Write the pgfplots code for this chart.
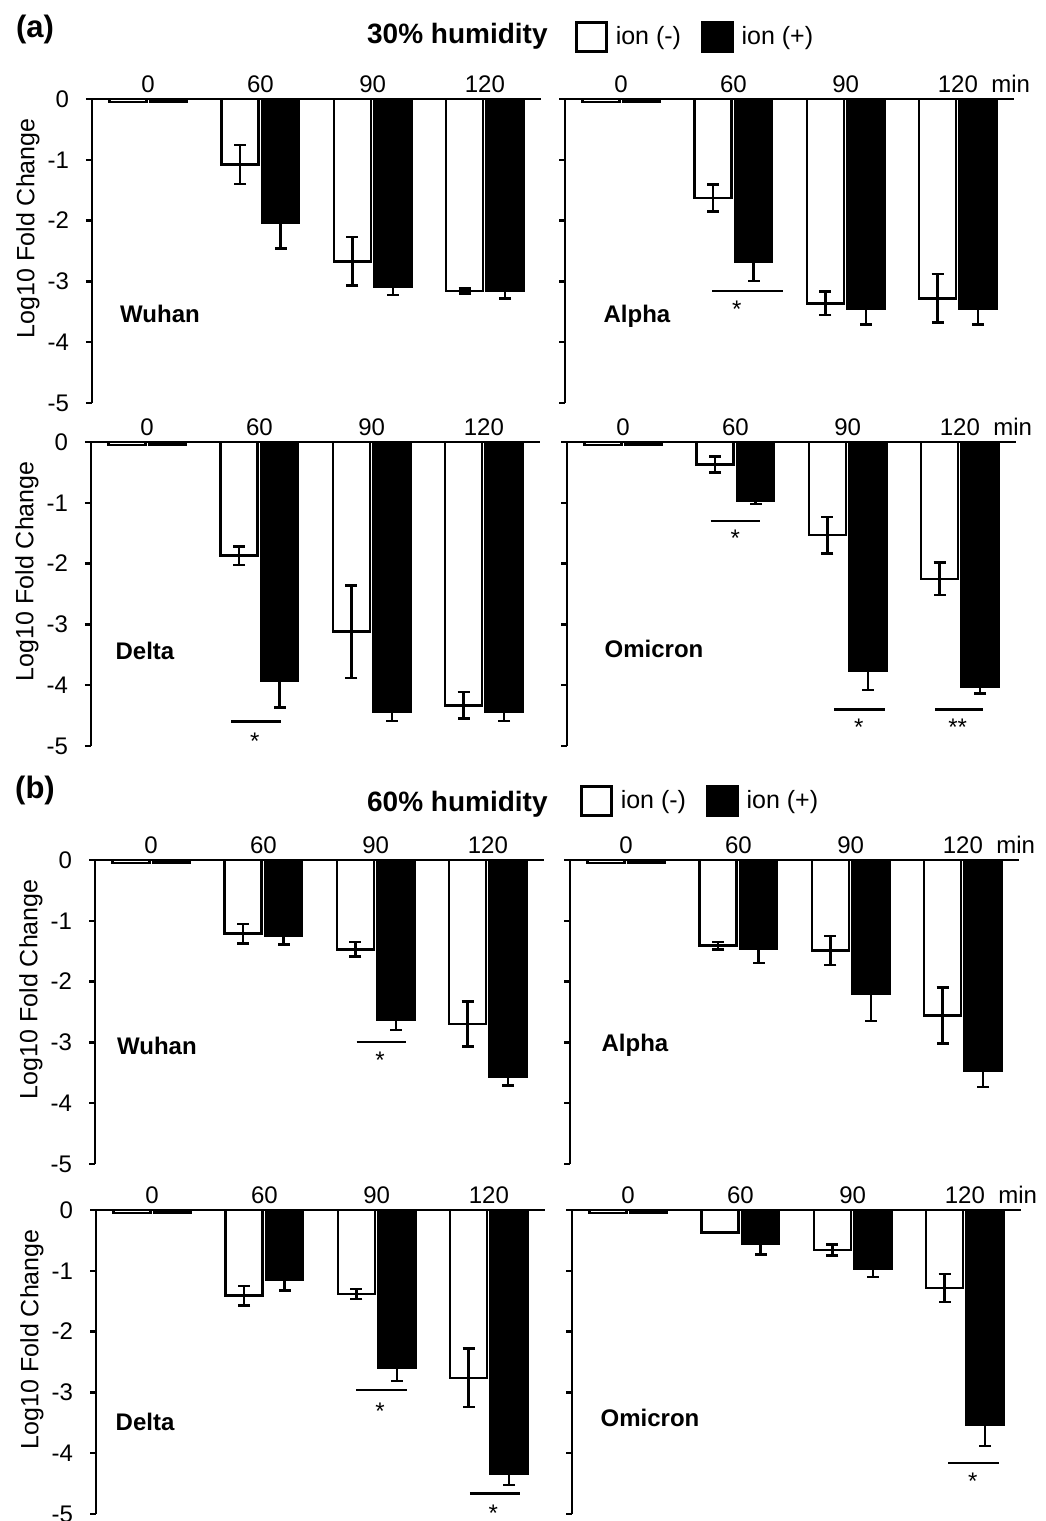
\documentclass[border=0pt]{standalone}
\usepackage{fontspec}
\setmainfont{Liberation Sans}
\usepackage{pgfplots}
\pgfplotsset{compat=1.18}

\newcommand{\tickfont}{\fontsize{12}{14}\selectfont}
\newcommand{\namefont}{\fontsize{12}{14}\selectfont\bfseries}

\pgfplotsset{
  panel/.style={
    scale only axis, width=224.5pt, height=152pt,
    anchor=north west,
    xmin=-0.5, xmax=3.5, ymin=-5, ymax=0,
    axis x line*=top, axis y line*=left,
    axis line style={line width=1.25pt, black},
    xtick={0,1,2,3}, xticklabels={0,60,90,120},
    ytick={-5,-4,-3,-2,-1,0}, yticklabels={},
    tick align=outside, major tick length=3pt,
    xtick style={draw=none},
    ytick style={line width=1.25pt, black},
    ticklabel style={font=\tickfont},
    xticklabel style={yshift=-3.4pt},
    yticklabel style={xshift=-5pt},
    clip=false,
  },
  leftpanel/.style={panel,
    yticklabels={-5,-4,-3,-2,-1,0},
    ylabel={Log10 Fold Change},
    ylabel style={font=\fontsize{12.5}{14}\selectfont,
      at={([xshift=-32pt]axis description cs:0,0.575)}, anchor=center},
  },
  withlegend/.style={
    legend columns=2,
    legend style={at={(0.022,1)}, anchor=west, xshift=0pt, yshift=31pt,
      draw=none, fill=none, inner xsep=0pt, inner ysep=0pt,
      font=\fontsize{12.5}{14}\selectfont,
      /tikz/every odd column/.append style={column sep=2pt},
      /tikz/every even column/.append style={column sep=8pt}},
    legend entries={ion (-),ion (+)},
  },
  % one unit of x is 56.125pt, so a shift of 0.18 is 10.1pt
  neg/.style={ybar, bar width=0.33, bar shift=-0.18,
    fill=white, draw=black, line width=1.25pt,
    legend image code/.code={\draw[##1,/tikz/.cd,line width=1.25pt] (0pt,-7.25pt) rectangle (15pt,7.25pt);},
    error bars/.cd, y dir=both, y explicit,
    error bar style={line width=1.25pt, black, xshift=-10.1pt},
    error mark options={rotate=90, line width=1.25pt, black, mark size=3pt}},
  pos/.style={ybar, bar width=0.33, bar shift=0.18,
    fill=black, draw=black, line width=1.25pt,
    legend image code/.code={\draw[##1,/tikz/.cd,line width=1.25pt] (0pt,-7.25pt) rectangle (15pt,7.25pt);},
    error bars/.cd, y dir=both, y explicit,
    error bar style={line width=1.25pt, black, xshift=10.1pt},
    error mark options={rotate=90, line width=1.25pt, black, mark size=3pt}},
}

\begin{document}
\begin{tikzpicture}
\path[use as bounding box] (0,0) rectangle (522.5pt,-760.5pt);

% ---------- (a) 30% humidity ----------
\node[font=\fontsize{15.5}{18}\selectfont\bfseries, inner sep=0pt] at (17.5pt,-14.5pt) {(a)};
\node[font=\fontsize{14}{16}\selectfont\bfseries, inner sep=0pt, anchor=east] at (274pt,-18pt) {30\% humidity};

% Wuhan
\begin{axis}[leftpanel, at={(46pt,-49.5pt)}]
\addplot[neg] coordinates {(0,-0.05) +- (0,0) (1,-1.08) +- (0,0.32) (2,-2.67) +- (0,0.40) (3,-3.16) +- (0,0.04)};
\addplot[pos] coordinates {(0,-0.05) +- (0,0) (1,-2.04) +- (0,0.42) (2,-3.09) +- (0,0.13) (3,-3.16) +- (0,0.12)};
\node[font=\namefont, inner sep=0pt] at (0.106,-3.53) {Wuhan};
\end{axis}

% Alpha
\begin{axis}[panel, withlegend, at={(282.5pt,-49.5pt)}]
\addplot[neg] coordinates {(0,-0.05) +- (0,0) (1,-1.63) +- (0,0.22) (2,-3.36) +- (0,0.19) (3,-3.28) +- (0,0.40)};
\addplot[pos] coordinates {(0,-0.05) +- (0,0) (1,-2.67) +- (0,0.32) (2,-3.45) +- (0,0.26) (3,-3.45) +- (0,0.26)};
\node[font=\tickfont, anchor=south, yshift=-0.4pt] at (3.47,0) {min};
\node[font=\namefont, inner sep=0pt] at (0.141,-3.58) {Alpha};
\draw[line width=1.25pt] (0.81,-3.16) -- (1.44,-3.16);
\node[font=\tickfont, yshift=-2.6pt] at (1.03,-3.38) {*};
\end{axis}

% Delta
\begin{axis}[leftpanel, at={(45.5pt,-221pt)}]
\addplot[neg] coordinates {(0,-0.05) +- (0,0) (1,-1.87) +- (0,0.15) (2,-3.12) +- (0,0.76) (3,-4.33) +- (0,0.22)};
\addplot[pos] coordinates {(0,-0.05) +- (0,0) (1,-3.92) +- (0,0.45) (2,-4.43) +- (0,0.16) (3,-4.43) +- (0,0.16)};
\node[font=\namefont, inner sep=0pt] at (-0.019,-3.43) {Delta};
\draw[line width=1.25pt] (0.75,-4.60) -- (1.19,-4.60);
\node[font=\tickfont, yshift=-2.6pt] at (0.96,-4.84) {*};
\end{axis}

% Omicron
\begin{axis}[panel, at={(283.5pt,-221pt)}]
\addplot[neg] coordinates {(0,-0.05) +- (0,0) (1,-0.37) +- (0,0.13) (2,-1.53) +- (0,0.30) (3,-2.25) +- (0,0.27)};
\addplot[pos] coordinates {(0,-0.05) +- (0,0) (1,-0.96) +- (0,0.06) (2,-3.77) +- (0,0.31) (3,-4.02) +- (0,0.12)};
\node[font=\tickfont, anchor=south, yshift=-0.4pt] at (3.47,0) {min};
\node[font=\namefont, inner sep=0pt] at (0.275,-3.41) {Omicron};
\draw[line width=1.25pt] (0.78,-1.30) -- (1.22,-1.30);
\node[font=\tickfont, yshift=-2.6pt] at (1.00,-1.49) {*};
\draw[line width=1.25pt] (1.88,-4.40) -- (2.33,-4.40);
\node[font=\tickfont, yshift=-2.6pt] at (2.10,-4.61) {*};
\draw[line width=1.25pt] (2.78,-4.40) -- (3.21,-4.40);
\node[font=\tickfont, yshift=-2.6pt] at (2.98,-4.61) {**};
\end{axis}

% ---------- (b) 60% humidity ----------
\node[font=\fontsize{15.5}{18}\selectfont\bfseries, inner sep=0pt] at (17.5pt,-395pt) {(b)};
\node[font=\fontsize{14}{16}\selectfont\bfseries, inner sep=0pt, anchor=east] at (274pt,-402pt) {60\% humidity};

% Wuhan
\begin{axis}[leftpanel, at={(47.5pt,-430pt)}]
\addplot[neg] coordinates {(0,-0.05) +- (0,0) (1,-1.21) +- (0,0.16) (2,-1.47) +- (0,0.12) (3,-2.70) +- (0,0.37)};
\addplot[pos] coordinates {(0,-0.05) +- (0,0) (1,-1.25) +- (0,0.14) (2,-2.63) +- (0,0.17) (3,-3.57) +- (0,0.14)};
\node[font=\namefont, inner sep=0pt] at (0.052,-3.05) {Wuhan};
\draw[line width=1.25pt] (1.83,-2.99) -- (2.27,-2.99);
\node[font=\tickfont, yshift=-2.6pt] at (2.04,-3.21) {*};
\end{axis}

% Alpha
\begin{axis}[panel, withlegend, at={(285pt,-430pt)}, legend style={yshift=-1.5pt}]
\addplot[neg] coordinates {(0,-0.05) +- (0,0) (1,-1.41) +- (0,0.06) (2,-1.49) +- (0,0.24) (3,-2.56) +- (0,0.46)};
\addplot[pos] coordinates {(0,-0.05) +- (0,0) (1,-1.46) +- (0,0.23) (2,-2.20) +- (0,0.45) (3,-3.47) +- (0,0.26)};
\node[font=\tickfont, anchor=south, yshift=-0.4pt] at (3.47,0) {min};
\node[font=\namefont, inner sep=0pt] at (0.079,-3.05) {Alpha};
\end{axis}

% Delta
\begin{axis}[leftpanel, at={(48pt,-605pt)}]
\addplot[neg] coordinates {(0,-0.05) +- (0,0) (1,-1.41) +- (0,0.16) (2,-1.38) +- (0,0.08) (3,-2.76) +- (0,0.48)};
\addplot[pos] coordinates {(0,-0.05) +- (0,0) (1,-1.14) +- (0,0.18) (2,-2.59) +- (0,0.22) (3,-4.34) +- (0,0.18)};
\node[font=\namefont, inner sep=0pt] at (-0.063,-3.48) {Delta};
\draw[line width=1.25pt] (1.82,-2.96) -- (2.27,-2.96);
\node[font=\tickfont, yshift=-2.6pt] at (2.03,-3.22) {*};
\draw[line width=1.25pt] (2.83,-4.66) -- (3.28,-4.66);
\node[font=\tickfont, yshift=-2.6pt] at (3.04,-4.91) {*};
\end{axis}

% Omicron
\begin{axis}[panel, at={(286pt,-605pt)}]
\addplot[neg] coordinates {(0,-0.05) +- (0,0) (1,-0.37) +- (0,0) (2,-0.66) +- (0,0.09) (3,-1.28) +- (0,0.23)};
\addplot[pos] coordinates {(0,-0.05) +- (0,0) (1,-0.55) +- (0,0.18) (2,-0.96) +- (0,0.14) (3,-3.53) +- (0,0.35)};
\node[font=\tickfont, anchor=south, yshift=-0.4pt] at (3.47,0) {min};
\node[font=\namefont, inner sep=0pt] at (0.195,-3.42) {Omicron};
\draw[line width=1.25pt] (2.85,-4.16) -- (3.30,-4.16);
\node[font=\tickfont, yshift=-2.6pt] at (3.07,-4.38) {*};
\end{axis}

\end{tikzpicture}
\end{document}
